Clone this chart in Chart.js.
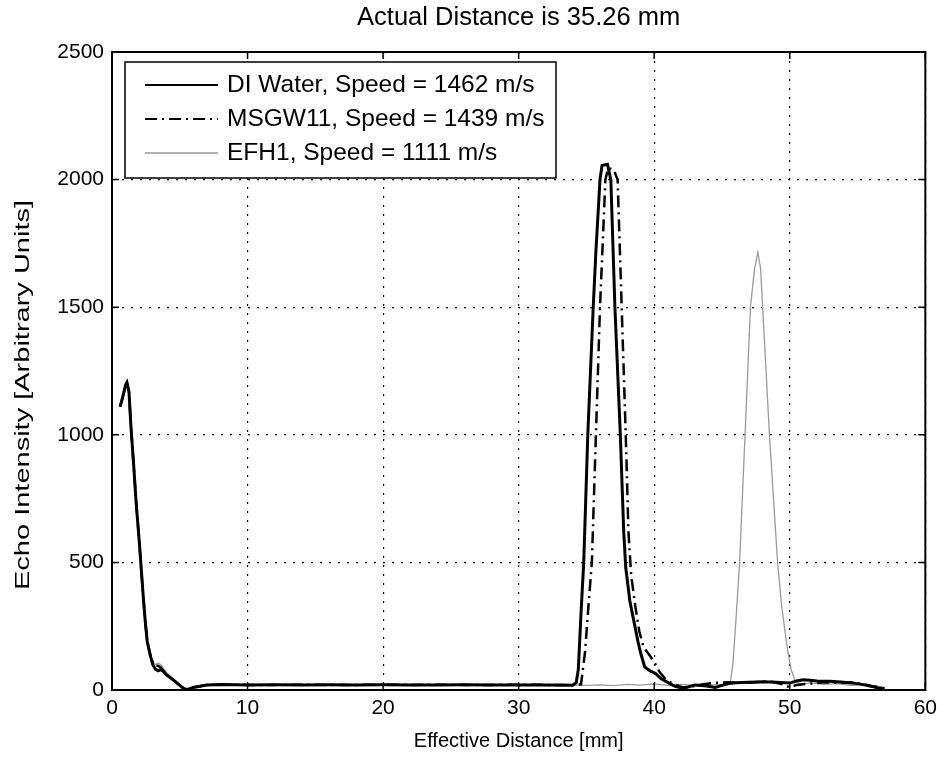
<!DOCTYPE html>
<html>
<head>
<meta charset="utf-8">
<script src="https://cdn.jsdelivr.net/npm/chart.js@4.4.1/dist/chart.umd.min.js"></script>
<style>
  html, body { margin: 0; padding: 0; background: #fff; }
  #wrap { width: 943px; height: 763px; }
</style>
</head>
<body>
<div id="wrap"><canvas id="echoChart"></canvas></div>
<script>
const chartTitle = "Actual Distance is 35.26 mm";
const xLabel = "Effective Distance [mm]";
const yLabel = "Echo Intensity [Arbitrary Units]";
const seriesNames = ["DI Water, Speed = 1462 m/s", "MSGW11, Speed = 1439 m/s", "EFH1, Speed = 1111 m/s"];

// DI Water (solid)
const diX = [0.6, 0.8, 1.0, 1.1, 1.25, 1.4, 1.6, 1.8, 2.0, 2.15, 2.3, 2.45, 2.6, 2.8, 3.0, 3.2, 3.4, 3.6, 3.8, 4.0, 4.3, 4.6, 5.0, 5.3, 5.6, 6.0, 6.5, 7.0,
  8, 10, 12, 14, 16, 18, 20, 22, 24, 26, 28, 30, 32, 34, 34.25, 34.4, 34.6, 34.8, 34.95, 35.1, 35.3, 35.5, 35.7, 36.0, 36.15, 36.55, 36.8, 36.95, 37.1, 37.3, 37.5,
  37.75, 37.9, 38.2, 38.5, 38.8, 39.0, 39.3, 39.7, 40.1, 40.5, 41.0, 41.5, 42.0, 42.5, 43.0, 43.5, 44.0, 44.5, 45.0, 45.5, 46, 47, 48, 49, 50, 50.5, 51,
  51.5, 52, 53, 54, 55, 55.5, 56, 56.5, 57];
const diY = [1110, 1150, 1195, 1205, 1170, 1030, 880, 720, 590, 480, 370, 270, 190, 140, 100, 82, 75, 80, 72, 60, 48, 36, 18, 5, 2, 10, 15, 20,
  22, 20, 21, 20, 21, 20, 21, 20, 20, 21, 20, 20, 20, 19, 30, 80, 300, 500, 750, 1000, 1250, 1500, 1720, 2000, 2055, 2060, 2000, 1750, 1500, 1250, 1000,
  620, 480, 350, 270, 190, 145, 90, 75, 65, 45, 30, 15, 8, 12, 20, 18, 15, 10, 18, 25, 28, 30, 32, 30, 27, 35, 40,
  38, 35, 34, 30, 25, 20, 15, 8, 5];

// MSGW11 (dash-dot)
const msX = [0.6, 0.8, 1.0, 1.1, 1.25, 1.4, 1.6, 1.8, 2.0, 2.15, 2.3, 2.45, 2.6, 2.8, 3.0, 3.2, 3.4, 3.6, 3.8, 4.0, 4.3, 4.6, 5.0, 5.3, 5.6, 6.0, 6.5, 7.0,
  8, 10, 12, 14, 16, 18, 20, 22, 24, 26, 28, 30, 32, 34, 34.6, 34.9, 35.15, 35.4, 35.7, 35.85, 36.0, 36.2, 36.4, 36.6, 37.0, 37.3, 37.45, 37.6,
  37.75, 37.9, 38.1, 38.3, 38.6, 38.9, 39.2, 39.6, 40.0, 40.4, 40.8, 41.2, 41.7, 42.2, 42.7, 43.5, 44.5, 45.5, 46.5, 47.5, 48.5, 49.5, 50, 50.5, 51.5,
  52.5, 53.5, 54.5, 55.5, 56, 56.5];
const msY = [1110, 1150, 1195, 1205, 1170, 1030, 880, 720, 590, 480, 370, 270, 190, 145, 110, 95, 95, 88, 75, 62, 48, 36, 18, 5, 2, 10, 15, 20,
  21, 20, 20, 21, 20, 20, 21, 20, 21, 20, 20, 21, 20, 20, 22, 150, 330, 500, 1000, 1250, 1500, 1750, 2000, 2045, 2040, 2000, 1750, 1500,
  1250, 1000, 620, 450, 330, 230, 170, 140, 110, 70, 45, 30, 18, 8, 12, 22, 28, 30, 28, 30, 35, 22, 10, 20, 25,
  30, 28, 30, 22, 15, 12];

// EFH1 (grey)
const efX = [0.6, 0.8, 1.0, 1.1, 1.25, 1.4, 1.6, 1.8, 2.0, 2.15, 2.3, 2.45, 2.6, 2.8, 3.0, 3.2, 3.4, 3.6, 3.8, 4.0, 4.3, 4.6, 5.0, 5.3, 5.6, 6.0, 6.5, 7.0,
  8, 10, 12, 14, 16, 18, 20, 22, 24, 26, 28, 30, 32, 34, 35, 36, 37, 38, 39, 40, 41, 42, 43, 44, 45, 45.6, 45.8, 46.0, 46.3, 46.5, 46.7, 46.9, 47.1,
  47.4, 47.65, 47.85, 48.0, 48.25, 48.5, 48.8, 49.1, 49.4, 49.8, 50.1, 50.4, 50.8, 51.5, 52.5, 53.5, 54.5, 55.5, 56.5, 57];
const efY = [1110, 1150, 1195, 1205, 1170, 1030, 880, 720, 590, 480, 370, 270, 190, 145, 112, 100, 105, 100, 85, 70, 55, 40, 20, 8, 3, 12, 16, 20,
  21, 20, 20, 21, 20, 20, 20, 21, 20, 20, 21, 20, 20, 19, 18, 20, 17, 22, 19, 24, 18, 22, 18, 20, 22, 25, 100, 250, 500, 750, 1000, 1250, 1500,
  1650, 1715, 1650, 1500, 1250, 1000, 750, 500, 330, 170, 80, 35, 22, 28, 22, 25, 18, 20, 15, 10];

const xTicks = [0, 10, 20, 30, 40, 50, 60];
const yTicks = [0, 500, 1000, 1500, 2000, 2500];

const toPoints = (xs, ys) => xs.map((x, i) => ({ x: x, y: ys[i] }));

const fontFamily = "'Liberation Sans', Arial, sans-serif";
const tickFont = { family: fontFamily, size: 21 };
const labelFont = { family: fontFamily, size: 20 };

// MATLAB-like box with inward ticks, the y label and the legend box in the upper left
const matlabBox = {
  id: "matlabBox",
  afterDatasetsDraw(chart) {
    const { ctx, chartArea: a, scales } = chart;
    ctx.save();
    ctx.strokeStyle = "#000";
    ctx.lineWidth = 2;
    ctx.strokeRect(a.left, a.top, a.right - a.left, a.bottom - a.top);
    ctx.lineWidth = 1.5;
    ctx.beginPath();
    xTicks.forEach((v) => {
      const px = scales.x.getPixelForValue(v);
      ctx.moveTo(px, a.bottom); ctx.lineTo(px, a.bottom - 7);
      ctx.moveTo(px, a.top); ctx.lineTo(px, a.top + 7);
    });
    yTicks.forEach((v) => {
      const py = scales.y.getPixelForValue(v);
      ctx.moveTo(a.left, py); ctx.lineTo(a.left + 7, py);
      ctx.moveTo(a.right, py); ctx.lineTo(a.right - 7, py);
    });
    ctx.stroke();

    // y axis label, rotated and stretched along its length like the original
    ctx.save();
    ctx.translate(23, 395);
    ctx.rotate(-Math.PI / 2);
    ctx.scale(1.45, 1);
    ctx.font = "20px " + fontFamily;
    ctx.fillStyle = "#000";
    ctx.textAlign = "center";
    ctx.textBaseline = "middle";
    ctx.fillText(yLabel, 0, 0);
    ctx.restore();

    // legend
    const lx = 125, ly = 62, lw = 431, lh = 116;
    ctx.fillStyle = "#fff";
    ctx.fillRect(lx, ly, lw, lh);
    ctx.lineWidth = 1.5;
    ctx.strokeRect(lx, ly, lw, lh);
    ctx.font = "24.5px " + fontFamily;
    ctx.textBaseline = "middle";
    chart.data.datasets.forEach((ds, i) => {
      const ry = 85 + i * 34;
      ctx.save();
      ctx.strokeStyle = ds.borderColor;
      ctx.lineWidth = Math.min(ds.borderWidth, 2);
      ctx.setLineDash(ds.borderDash || []);
      ctx.beginPath();
      ctx.moveTo(145, ry); ctx.lineTo(218, ry);
      ctx.stroke();
      ctx.restore();
      ctx.fillStyle = "#000";
      ctx.fillText(ds.label, 227, ry);
    });
    ctx.restore();
  }
};

new Chart(document.getElementById("echoChart"), {
  type: "scatter",
  data: {
    datasets: [
      { label: seriesNames[0], data: toPoints(diX, diY), borderColor: "#000", borderWidth: 3, borderDash: [] },
      { label: seriesNames[1], data: toPoints(msX, msY), borderColor: "#000", borderWidth: 2.5, borderDash: [12, 5, 2, 5] },
      { label: seriesNames[2], data: toPoints(efX, efY), borderColor: "#9a9a9a", borderWidth: 1.3, borderDash: [] }
    ].map((d) => Object.assign(d, { showLine: true, pointRadius: 0, tension: 0, fill: false }))
  },
  options: {
    responsive: true,
    maintainAspectRatio: false,
    devicePixelRatio: 1,
    animation: false,
    layout: { padding: { left: 0, right: 15, top: 0, bottom: 0 } },
    plugins: {
      legend: { display: false },
      tooltip: { enabled: false },
      title: {
        display: true,
        fullSize: false,
        text: chartTitle,
        color: "#000",
        font: { family: fontFamily, size: 25.5, weight: "normal", lineHeight: 1.2 },
        padding: { top: 3, bottom: 18.4 }
      }
    },
    scales: {
      x: {
        type: "linear", min: 0, max: 60,
        afterBuildTicks: (s) => { s.ticks = xTicks.map((v) => ({ value: v })); },
        ticks: { color: "#000", font: tickFont, padding: 6, maxRotation: 0, callback: (v) => String(v) },
        grid: { color: "#000", lineWidth: 1.2, drawTicks: false },
        border: { display: true, color: "#000", width: 2, dash: [2, 7] },
        title: { display: true, text: xLabel, color: "#000", font: labelFont, padding: { top: 0, bottom: 10 } },
        afterFit: (s) => { s.height = 73; }
      },
      y: {
        type: "linear", min: 0, max: 2500,
        afterBuildTicks: (s) => { s.ticks = yTicks.map((v) => ({ value: v })); },
        ticks: { color: "#000", font: tickFont, padding: 8, callback: (v) => String(v) },
        grid: { color: "#000", lineWidth: 1.2, drawTicks: false },
        border: { display: true, color: "#000", width: 2, dash: [2, 7] },
        title: { display: false },
        afterFit: (s) => { s.width = 112; }
      }
    }
  },
  plugins: [matlabBox]
});
</script>
</body>
</html>
